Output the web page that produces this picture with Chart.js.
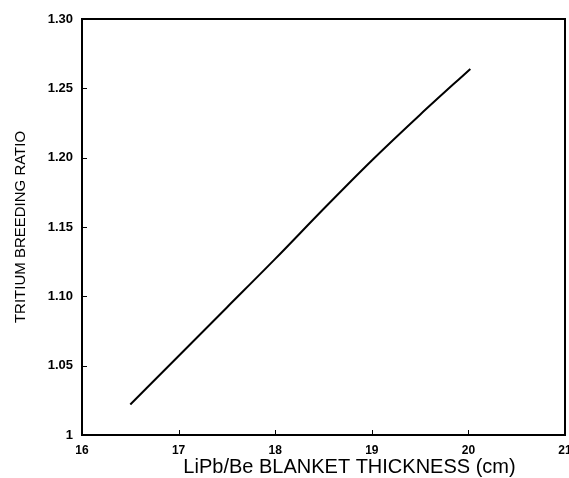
<!DOCTYPE html>
<html>
<head>
<meta charset="utf-8">
<script src="https://cdn.jsdelivr.net/npm/chart.js@4"></script>
<style>
  html, body { margin: 0; padding: 0; background: #fff; }
  #wrap { width: 569px; height: 478px; }
</style>
</head>
<body>
<div id="wrap"><canvas id="tbrChart" width="569" height="478"></canvas></div>
<script>
// Blanket thickness (cm) vs tritium breeding ratio
const thickness = [16.5, 17.0, 17.5, 18.0, 18.5, 19.0, 19.5, 20.02];
const breedingRatio = [1.022, 1.057, 1.092, 1.127, 1.163, 1.198, 1.231, 1.264];
const xTicks = [16, 17, 18, 19, 20, 21];
const yTicks = [1, 1.05, 1.10, 1.15, 1.20, 1.25, 1.30];
const xTitle = 'LiPb/Be BLANKET THICKNESS (cm)';

const points = thickness.map((x, i) => ({ x: x, y: breedingRatio[i] }));

// frame + small inward ticks, like the original plot
const framePlugin = {
    id: 'frame',
    afterDraw(chart) {
        const ctx = chart.ctx;
        const a = chart.chartArea;
        const xs = chart.scales.x, ys = chart.scales.y;
        ctx.save();
        ctx.strokeStyle = '#000';
        ctx.lineWidth = 2;
        ctx.strokeRect(a.left, a.top, a.right - a.left, a.bottom - a.top);
        ctx.lineWidth = 1;
        ctx.beginPath();
        xTicks.slice(1, -1).forEach(v => {
            const px = Math.round(xs.getPixelForValue(v)) + 0.5;
            ctx.moveTo(px, a.bottom);
            ctx.lineTo(px, a.bottom - 5);
        });
        yTicks.slice(1, -1).forEach(v => {
            const py = Math.round(ys.getPixelForValue(v)) + 0.5;
            ctx.moveTo(a.left, py);
            ctx.lineTo(a.left + 5, py);
        });
        ctx.stroke();

        // x axis title sits a bit right of centre in the original
        ctx.fillStyle = '#000';
        ctx.font = '20px "Liberation Sans"';
        ctx.textAlign = 'center';
        ctx.textBaseline = 'middle';
        ctx.fillText(xTitle, (a.left + a.right) / 2 + 26, 467);
        ctx.restore();
    }
};

const ctx = document.getElementById('tbrChart').getContext('2d');
new Chart(ctx, {
    type: 'scatter',
    data: {
        datasets: [{
            data: points,
            showLine: true,
            borderColor: '#000',
            borderWidth: 2,
            pointRadius: 0,
            cubicInterpolationMode: 'monotone'
        }]
    },
    options: {
        responsive: false,
        animation: false,
        layout: { padding: { top: 19, right: 4, left: 0, bottom: 0 } },
        plugins: {
            legend: { display: false },
            tooltip: { enabled: false }
        },
        scales: {
            x: {
                type: 'linear',
                min: 16,
                max: 21,
                afterBuildTicks: s => { s.ticks = xTicks.map(v => ({ value: v })); },
                afterFit: s => { s.height = 43; s.paddingLeft = 0; s.paddingRight = 0; },
                grid: { display: false, drawTicks: false },
                border: { display: false },
                ticks: {
                    color: '#000',
                    padding: 8,
                    font: { family: 'Liberation Sans', size: 12, weight: 'bold' }
                }
            },
            y: {
                type: 'linear',
                min: 1,
                max: 1.3,
                afterBuildTicks: s => { s.ticks = yTicks.map(v => ({ value: v })); },
                afterFit: s => { s.width = 82; s.paddingTop = 0; s.paddingBottom = 0; },
                grid: { display: false, drawTicks: false },
                border: { display: false },
                ticks: {
                    color: '#000',
                    padding: 9,
                    font: { family: 'Liberation Sans', size: 13, weight: 'bold' },
                    callback: v => v === 1 ? '1' : v.toFixed(2)
                },
                title: {
                    display: true,
                    text: 'TRITIUM BREEDING RATIO',
                    color: '#000',
                    padding: { top: 12, bottom: 0 },
                    font: { family: 'Liberation Sans', size: 15 }
                }
            }
        }
    },
    plugins: [framePlugin]
});
</script>
</body>
</html>
